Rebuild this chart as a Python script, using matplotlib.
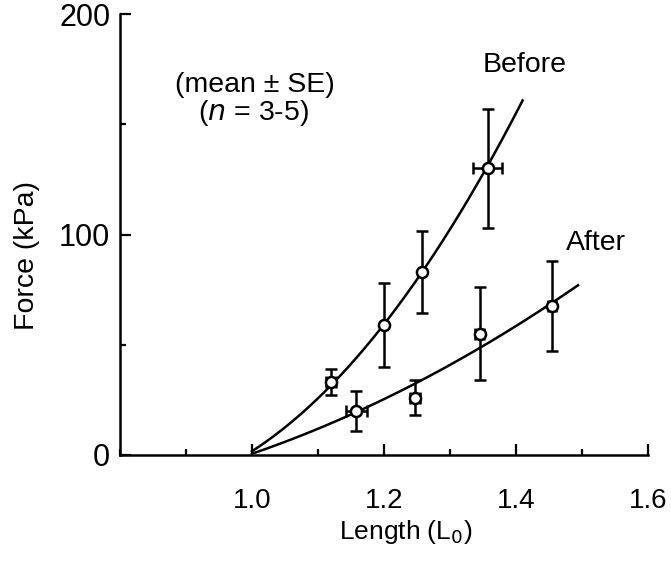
import numpy as np
import matplotlib
matplotlib.use("Agg")
import matplotlib.pyplot as plt
from matplotlib.ticker import MultipleLocator

plt.rcParams['font.family'] = ['Liberation Sans', 'DejaVu Sans']

# points
before_x = [1.12, 1.20, 1.258, 1.357]
before_y = [33, 59, 83, 130]
before_yerr = [6, 19, 18.5, 27]
before_xerr = [0.008, 0.0, 0.0, 0.022]

after_x = [1.158, 1.247, 1.345, 1.455]
after_y = [20, 26, 55, 67.5]
after_yerr = [9, 8, 21, 20.5]
after_xerr = [0.016, 0.007, 0.007, 0.006]

# fitted curves, points
before_curve_x = [1.0, 1.044, 1.12, 1.2, 1.26, 1.357, 1.41]
before_curve_y = [0, 12.7, 33, 59, 83, 130, 162]
after_curve_x = [1.0, 1.044, 1.177, 1.256, 1.345, 1.455, 1.494]
after_curve_y = [0, 6, 21.8, 34, 49, 67, 78.5]

fig = plt.figure(figsize=(6.71, 5.63), dpi=100)
ax = fig.add_axes([120/671, 1 - 455/563, 528/671, 441/563])

for cx, cy in [(before_curve_x, before_curve_y), (after_curve_x, after_curve_y)]:
    p = np.polyfit(cx, cy, 2)
    xs = np.linspace(cx[0], cx[-1], 200)
    ax.plot(xs, np.polyval(p, xs), color='black', lw=1.8, zorder=2)

for x, y, xe, ye in [(before_x, before_y, before_xerr, before_yerr),
                     (after_x, after_y, after_xerr, after_yerr)]:
    ax.errorbar(x, y, yerr=ye, xerr=xe, fmt='none', ecolor='black',
                elinewidth=1.8, capsize=4.5, capthick=1.8, zorder=3)
    ax.plot(x, y, 'o', ms=8, mfc='white', mec='black', mew=1.8, zorder=4)

ax.set_xlim(0.8, 1.6)
ax.set_ylim(0, 200)
ax.set_xticks([1.0, 1.2, 1.4, 1.6])
ax.set_xticklabels(['1.0', '1.2', '1.4', '1.6'])
ax.xaxis.set_minor_locator(MultipleLocator(0.1))
ax.set_yticks([0, 100, 200])
ax.yaxis.set_minor_locator(MultipleLocator(50))
ax.tick_params(which='both', direction='in', width=1.6)
ax.tick_params(which='major', length=8)
ax.tick_params(which='minor', length=4)
ax.tick_params(axis='x', pad=24, labelsize=20)
ax.tick_params(axis='y', pad=7, labelsize=22)
for s in ['top', 'right']:
    ax.spines[s].set_visible(False)
for s in ['left', 'bottom']:
    ax.spines[s].set_linewidth(1.8)

ax.set_xlabel('Length (L$_0$)', fontsize=19, va='center')
ax.xaxis.set_label_coords(0.542, -0.175)
ax.set_ylabel('Force (kPa)', fontsize=20.5, va='center')
ax.yaxis.set_label_coords(-0.176, 0.453)

ax.text(1.005, 168, '(mean \u00b1 SE)', fontsize=20.5, ha='center', va='center')
ax.text(1.003, 155, '($n$ = 3-5)', fontsize=20.5, ha='center', va='center')
ax.text(1.413, 177, 'Before', fontsize=20.5, ha='center', va='center')
ax.text(1.521, 96, 'After', fontsize=20.5, ha='center', va='center')

fig.savefig('out.png', dpi=100)
